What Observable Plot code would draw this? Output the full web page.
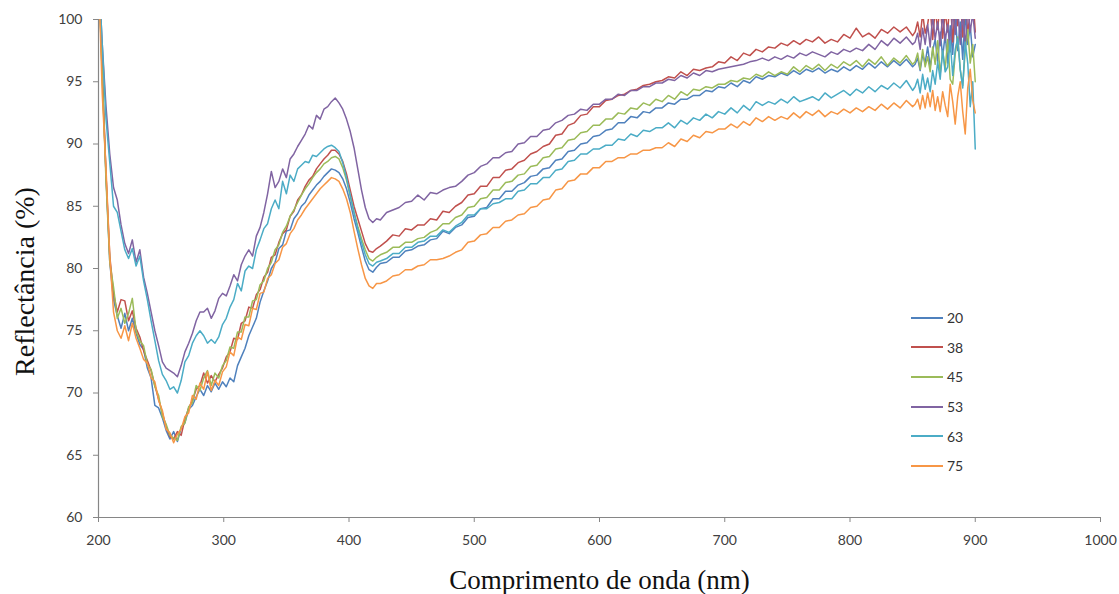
<!DOCTYPE html>
<html><head><meta charset="utf-8">
<script src="https://cdn.jsdelivr.net/npm/d3@7"></script>
<script src="https://cdn.jsdelivr.net/npm/@observablehq/plot@0.6"></script>
<style>
body{margin:0;background:#fff;}
#wrap{position:relative;width:1119px;height:594px;}
#legend{position:absolute;left:911px;top:303px;font-family:Lato,"Open Sans",sans-serif;font-size:14px;color:#333;}
.row{height:29.6px;display:flex;align-items:center;}
.sw{display:inline-block;width:32px;height:2px;margin-right:4px;}
</style></head><body><div id="wrap"><div id="legend"></div></div>
<script>
const wavelengths = [
200,203,206,209,212,215,218,221,224,227,230,233,236,239,242,245,248,251,254,257,
260,263,266,269,272,275,278,281,284,287,290,293,296,299,302,305,308,311,314,317,
320,323,326,329,332,335,338,341,344,347,350,353,356,359,362,365,368,371,374,377,
380,383,386,389,392,395,398,
401,404,407,410,413,416,419,422,425,
430,435,440,445,450,455,460,465,470,475,480,485,490,495,500,505,510,515,520,525,
530,535,540,545,550,555,560,565,570,575,580,585,590,595,600,605,610,615,620,625,
630,635,640,645,650,655,660,665,670,675,680,685,690,695,700,705,710,715,720,725,
730,735,740,745,750,755,760,765,770,775,780,785,790,795,800,805,810,815,820,825,
830,835,840,845,850,
852,854,856,858,860,862,864,866,868,870,872,874,876,878,880,882,884,886,888,890,
892,894,896,898,900];

const seriesNames = ["20","38","45","53","63","75"];
const seriesColors = ["#4F81BD","#C0504D","#9BBB59","#8064A2","#4BACC6","#F79646"];

const r20 = [
104,95.5,87.5,80.5,77.5,76.2,75.2,76.4,75.0,76.0,
74.8,73.9,73.5,72.0,71.2,69.0,68.8,68.0,67.0,66.3,
66.9,66.1,67.2,67.6,68.7,69.0,69.7,70.3,69.8,70.6,
70.1,70.8,70.3,70.9,70.5,71.2,70.9,72.2,72.9,73.6,
74.6,75.3,76.0,77.3,78.2,79.0,80.0,80.5,81.6,81.9,
83.0,83.1,84.0,84.4,85.0,85.3,85.9,86.3,86.7,87.0,
87.4,87.7,88.0,87.9,87.7,87.2,86.4,
85.3,84.0,82.9,81.7,80.6,79.9,79.7,80.1,80.4,
80.5,80.9,80.9,81.4,81.5,81.8,81.9,82.3,82.4,83.0,
82.8,83.3,83.5,84.1,84.2,84.8,84.9,85.6,85.6,86.2,
86.2,86.7,86.9,87.4,87.5,88.0,88.1,88.7,88.8,89.4,
89.5,90.0,90.1,90.6,90.7,91.1,91.2,91.7,91.7,92.2,
92.1,92.6,92.5,92.9,92.9,93.3,93.2,93.6,93.6,93.9,
93.9,94.3,94.2,94.6,94.5,94.9,94.6,95.1,94.9,95.4,
95.2,95.5,95.4,95.7,95.5,95.9,95.6,96.0,95.8,96.1,
95.7,96.0,95.8,96.2,95.9,96.3,96.0,96.5,96.1,96.6,
96.2,96.7,96.3,96.8,96.2,
96.4,96.9,95.9,97.2,96.5,97.8,96.2,97.5,98.4,96.6,
99.0,97.0,98.8,96.5,99.5,97.2,100.5,97.5,99.8,96.8,
100.5,98.0,99.5,97.0,98.0];

const r38 = [
104,96,87.5,81,78,76.5,77.5,77.4,75.8,76.6,
75.2,74.5,73.4,72.6,71.8,70.6,69.5,68.4,67.3,66.5,
66.3,66.9,66.6,67.9,68.8,69.4,70.3,70.6,71.6,70.8,
71.4,70.9,71.5,72.0,72.9,73.3,74.4,74.3,75.6,75.8,
76.9,76.8,77.9,78.3,79.3,79.7,80.9,81.1,82.1,82.8,
83.1,84.2,84.6,85.5,85.9,86.6,87.1,87.4,88.0,88.4,
88.8,89.1,89.5,89.5,89.2,88.6,87.6,
86.3,85.0,84.0,83.0,82.0,81.4,81.3,81.6,81.8,
82.2,82.7,82.6,83.2,83.1,83.5,83.5,84.0,83.9,84.6,
84.5,85.0,85.3,85.9,86.0,86.6,86.6,87.3,87.3,87.9,
88.0,88.5,88.7,89.2,89.4,89.8,90.0,90.7,90.8,91.5,
91.7,92.3,92.4,93.0,93.0,93.5,93.6,93.9,94.0,94.3,
94.4,94.7,94.8,95.0,95.1,95.4,95.3,95.8,95.5,96.0,
95.9,96.1,96.2,96.6,96.5,97.0,96.7,97.3,97.1,97.6,
97.4,97.8,97.7,98.1,97.9,98.3,98.0,98.4,98.2,98.6,
98.1,98.4,98.2,98.8,98.5,99.3,98.6,98.9,98.5,99.2,
98.9,99.4,99.0,99.4,98.7,
99.0,99.8,98.6,100.5,98.9,99.6,101,98.4,100.8,99.2,
101.5,98.5,100.6,99.0,102,98.2,101,99.5,102,98.6,
101.5,99.0,100.5,102,99.0];

const r45 = [
104,95.5,87,80.5,78.5,76.0,76.8,75.6,76.4,77.6,
75.0,74.2,73.8,72.3,71.9,70.5,69.8,68.1,67.5,66.6,
66.4,66.2,67.3,67.6,68.9,69.2,70.6,70.2,71.2,71.8,
70.6,71.6,71.2,72.2,72.6,73.7,73.6,74.9,74.9,76.1,
76.1,77.4,77.5,78.7,79.0,80.0,80.5,81.5,81.9,82.9,
83.4,84.2,84.7,85.3,85.9,86.4,86.8,87.3,87.7,88.0,
88.4,88.6,88.9,89.0,88.8,88.1,87.1,
85.8,84.5,83.4,82.4,81.5,80.8,80.6,80.9,81.1,
81.3,81.7,81.7,82.1,82.1,82.4,82.5,82.9,83.1,83.6,
83.6,84.1,84.3,84.9,85.0,85.6,85.7,86.3,86.3,86.9,
87.0,87.5,87.6,88.2,88.3,88.9,89.0,89.6,89.7,90.3,
90.4,90.9,91.0,91.5,91.5,92.0,92.0,92.5,92.4,92.9,
92.8,93.3,93.1,93.6,93.4,93.9,93.6,94.2,93.9,94.4,
94.3,94.6,94.5,94.8,94.8,95.1,95.0,95.3,95.2,95.6,
95.4,95.8,95.5,95.8,95.6,96.2,95.8,96.3,96.0,96.4,
95.9,96.4,96.1,96.6,96.3,96.7,96.2,96.8,96.4,97.0,
96.3,96.9,96.5,97.1,96.4,
96.6,97.3,96.0,97.6,96.2,97.0,95.8,97.8,96.4,98.3,
95.6,97.5,96.0,98.4,95.2,94.8,97.2,98.6,96.0,94.7,
97.5,99.2,96.5,98.0,95.0];

const r53 = [
104,98,93,89.2,86.5,85.5,83.5,82.0,81.2,82.3,
80.5,81.5,79.3,78.0,76.5,75.0,73.8,72.5,72.0,71.8,
71.6,71.3,72.2,73.3,74.0,74.8,75.8,76.5,76.5,76.8,
76.0,76.6,77.6,78.0,77.8,78.6,79.5,79.0,80.3,81.0,
81.5,81.0,82.6,83.3,84.5,86.0,87.8,86.5,87.0,88.0,
87.3,88.8,89.2,89.8,90.3,90.8,91.5,91.2,92.3,92.0,
92.8,93.0,93.4,93.7,93.3,92.8,92.0,
91.0,89.7,88.0,86.3,84.9,84.0,83.7,84.0,83.9,
84.5,84.7,84.9,85.3,85.4,85.9,85.5,86.1,86.0,86.3,
86.5,86.6,87.0,87.5,87.7,88.2,88.4,88.9,88.9,89.3,
89.4,90.0,90.1,90.6,90.6,91.1,91.2,91.7,91.9,92.3,
92.4,92.8,92.7,93.2,93.2,93.6,93.6,94.0,93.9,94.3,
94.3,94.6,94.6,94.9,94.9,95.2,95.1,95.5,95.3,95.7,
95.5,95.9,95.8,96.0,96.1,96.2,96.3,96.4,96.6,96.7,
96.9,96.7,97.0,96.8,97.1,96.9,97.3,97.1,97.4,97.2,
97.0,97.4,97.2,97.6,97.4,97.7,97.5,98.0,97.6,98.3,
97.9,98.5,98.1,98.6,98.0,
98.2,98.9,97.6,99.3,98.0,99.6,97.8,100.3,98.4,99.8,
97.9,100.5,98.3,99.6,97.4,100.8,98.8,101,98.0,100.5,
97.8,101,99.0,100.5,98.5];

const r63 = [
104,98,92,88.5,85.0,84.5,83.0,81.5,80.8,81.6,
80.2,81.0,79.0,77.5,75.8,74.2,72.6,71.5,71.0,70.3,
70.5,70.0,71.0,72.5,73.0,74.0,74.6,75.0,74.6,74.0,
74.3,74.0,74.5,75.5,76.0,76.9,77.5,78.8,78.2,79.8,
80.2,80.0,81.5,82.3,83.2,83.6,84.8,85.5,84.8,87.0,
86.0,87.5,87.0,88.0,88.3,88.6,88.5,89.1,89.0,89.3,
89.6,89.8,89.9,89.7,89.4,88.5,87.3,
85.9,84.5,83.2,82.1,81.1,80.4,80.2,80.5,80.6,
80.8,81.2,81.2,81.7,81.7,82.1,82.2,82.6,82.6,83.1,
82.9,83.4,83.7,84.3,84.3,84.8,84.8,85.2,85.3,85.6,
85.6,86.2,86.3,86.8,86.8,87.3,87.3,87.9,88.0,88.6,
88.7,89.2,89.2,89.6,89.6,89.9,89.9,90.4,90.3,90.8,
90.6,91.1,91.0,91.3,91.3,91.7,91.3,91.9,91.6,92.1,
91.9,92.4,92.1,92.6,92.4,92.9,92.5,93.1,92.7,93.4,
93.1,93.4,93.2,93.6,93.3,93.8,93.4,93.6,93.8,93.5,
94.1,93.7,94.0,94.3,93.9,94.4,94.1,94.6,94.2,94.7,
94.4,94.9,94.5,95.1,94.3,
94.6,95.2,94.1,95.6,94.4,95.3,94.2,95.9,94.8,96.6,
95.2,97.5,95.8,96.2,98.3,95.5,97.6,98.5,96.0,94.5,
98.2,96.5,93.0,95.0,89.6];

const r75 = [
104,94,88,81,76.5,75.0,74.4,75.4,74.2,75.6,
74.4,73.6,72.7,72.4,71.2,70.9,69.4,68.6,67.1,66.8,
66.0,66.7,67.1,68.1,68.4,69.8,69.5,70.8,70.3,71.7,
70.2,71.0,70.6,71.7,72.1,73.3,73.0,74.5,74.3,75.5,
75.4,76.8,76.7,78.0,78.1,79.2,79.5,80.4,80.7,81.7,
82.0,82.8,83.2,83.9,84.3,84.8,85.2,85.6,86.0,86.4,
86.7,87.0,87.3,87.2,87.0,86.4,85.6,
84.5,83.0,81.6,80.3,79.2,78.6,78.4,78.8,78.8,
79.0,79.4,79.5,79.9,79.9,80.2,80.3,80.7,80.7,80.8,
81.0,81.3,81.5,82.1,82.2,82.7,82.8,83.3,83.3,83.8,
83.9,84.3,84.4,84.9,85.0,85.5,85.6,86.3,86.4,87.0,
87.1,87.6,87.6,88.1,88.1,88.6,88.6,88.9,88.9,89.2,
89.2,89.5,89.5,89.7,89.7,90.1,89.8,90.4,90.2,90.7,
90.5,91.0,90.9,91.2,91.2,91.6,91.3,91.8,91.5,92.1,
91.8,92.2,91.9,92.2,92.0,92.5,92.1,92.6,92.3,92.7,
92.2,92.6,92.4,92.8,92.5,92.9,92.6,93.0,92.7,93.2,
92.8,93.3,92.9,93.5,93.0,
93.2,93.6,92.8,93.9,92.9,94.1,93.0,94.3,92.7,93.8,
92.6,94.2,93.1,92.2,94.8,93.4,91.6,93.8,95.0,92.6,
90.8,94.5,96.0,93.5,92.5];

const xTicks = [200,300,400,500,600,700,800,900,1000];
const yTicks = [60,65,70,75,80,85,90,95,100];
const xDomain = [200,1000];
const yDomain = [60,100];
const xTitle = "Comprimento de onda (nm)";
const yTitle = "Reflectância (%)";

const seriesValues = [r20, r38, r45, r53, r63, r75];
const rows = seriesNames.flatMap((s, k) =>
  seriesValues[k].map((v, i) => ({wl: wavelengths[i], v, s})));

const tickFont = "Lato, 'Open Sans', sans-serif";
const titleFont = "'Liberation Serif', 'Times New Roman', serif";

const chart = Plot.plot({
  width: 1119, height: 594,
  marginLeft: 98, marginRight: 19, marginTop: 19, marginBottom: 77,
  x: {domain: xDomain},
  y: {domain: yDomain},
  color: {domain: seriesNames, range: seriesColors},
  style: {background: "#fff", fontFamily: tickFont},
  marks: [
    Plot.axisX({ticks: xTicks, tickSize: 5, tickPadding: 13, tickFormat: d => String(d), label: null,
      fontSize: 14, fontFamily: tickFont, stroke: "#868686", fill: "#404040"}),
    Plot.axisY({ticks: yTicks, tickSize: 5, tickPadding: 11, tickFormat: d => String(d), label: null,
      fontSize: 14, fontFamily: tickFont, stroke: "#868686", fill: "#404040"}),
    Plot.ruleX([xDomain[0]], {stroke: "#868686", strokeWidth: 1.2}),
    Plot.ruleY([yDomain[0]], {stroke: "#868686", strokeWidth: 1.2}),
    Plot.line(rows, {x: "wl", y: "v", z: "s", stroke: "s", strokeWidth: 1.5, clip: true, curve: "linear"}),
    Plot.text([xTitle], {text: d => d, frameAnchor: "bottom", dy: 71, lineAnchor: "bottom", textAnchor: "middle",
      fontFamily: titleFont, fontSize: 27, fill: "#111"}),
    Plot.text([yTitle], {text: d => d, frameAnchor: "left", dx: -65, dy: 13, rotate: -90, lineAnchor: "bottom",
      textAnchor: "middle", fontFamily: titleFont, fontSize: 28, fill: "#111"})
  ]
});
const wrap = document.getElementById("wrap");
wrap.insertBefore(chart, wrap.firstChild);

const legend = document.getElementById("legend");
seriesNames.forEach((s, k) => {
  const row = document.createElement("div");
  row.className = "row";
  const sw = document.createElement("span");
  sw.className = "sw";
  sw.style.background = seriesColors[k];
  const lab = document.createElement("span");
  lab.textContent = s;
  row.appendChild(sw); row.appendChild(lab);
  legend.appendChild(row);
});
</script></body></html>
